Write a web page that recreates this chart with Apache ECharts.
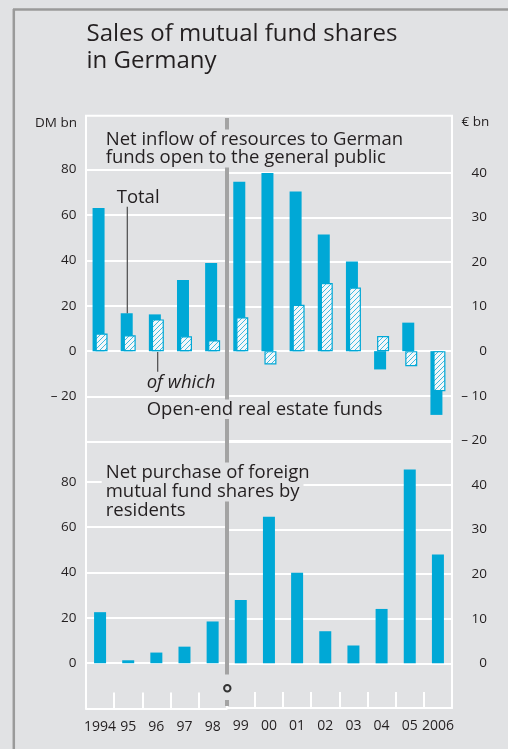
<!DOCTYPE html>
<html>
<head>
<meta charset="utf-8">
<script src="https://cdn.jsdelivr.net/npm/echarts@6/dist/echarts.min.js"></script>
<style>
  html, body { margin: 0; padding: 0; background: #e1e2e4; }
  #chart { width: 508px; height: 749px; }
</style>
</head>
<body>
<div id="chart"></div>
<script>
// years before and after the euro change-over
const yearsDM = ['1994', '95', '96', '97', '98']
const yearsEUR = ['99', '00', '01', '02', '03', '04', '05', '2006']

// net inflow to German funds open to the general public
const totalDM = [63.0, 16.7, 16.2, 31.3, 38.8]          // DM bn
const openEndDM = [7.8, 7.0, 14.0, 6.6, 4.8]
const totalEUR = [38.0, 40.0, 35.8, 26.2, 20.1, -4.1, 6.4, -14.3]   // € bn
const openEndEUR = [7.6, -3.0, 10.4, 15.3, 14.3, 3.4, -3.4, -9.0]

// net purchase of foreign mutual fund shares by residents
const foreignDM = [22.5, 1.3, 4.7, 7.3, 18.4]
const foreignEUR = [14.2, 32.9, 20.3, 7.2, 4.0, 12.2, 43.5, 24.4]

// axis ranges [min, max, step]
const topDM = [-40, 80, 20]
const topEUR = [-20, 40, 10]
const bottomDM = [-20, 97.5, 20]
const bottomEUR = [-10, 49.65, 10]

const font = "'Open Sans', sans-serif"
const bg = '#e1e2e4'
const blue = '#00a8d6'
const ink = '#231f20'

// hatch for the open-end real estate funds
const hatch = document.createElement('canvas')
hatch.width = 5
hatch.height = 5
const hc = hatch.getContext('2d')
hc.fillStyle = '#f4f7f9'
hc.fillRect(0, 0, 5, 5)
hc.strokeStyle = '#2bb2dc'
hc.lineWidth = 0.9
hc.beginPath()
hc.moveTo(-1, 6); hc.lineTo(6, -1)
hc.moveTo(-1, 1); hc.lineTo(1, -1)
hc.moveTo(4, 6); hc.lineTo(6, 4)
hc.stroke()

const xL = 86, xD = 226.7, xR = 452

function grid(left, right, top, bottom) {
  return {left: left, top: top, width: right - left, height: bottom - top, containLabel: false}
}

function catAxis(gi, data, bottomAxis) {
  return {
    type: 'category', gridIndex: gi, data: data, position: 'bottom',
    axisLine: {show: bottomAxis, onZero: false, lineStyle: {color: '#fff', width: 2}},
    axisTick: {show: bottomAxis, inside: true, length: 16, lineStyle: {color: '#fff', width: 2}},
    axisLabel: {show: bottomAxis, interval: 0, margin: 11, color: ink, fontSize: 14, fontFamily: font},
    splitLine: {show: false}
  }
}

function fmt(v) {
  return v < 0 ? '– ' + (-v) : String(v)
}

function valAxis(gi, pos, r, showMin) {
  return {
    type: 'value', gridIndex: gi, position: pos,
    min: r[0], max: r[1], interval: r[2],
    axisLine: {show: true, lineStyle: {color: '#fff', width: 2}},
    axisTick: {show: false},
    axisLabel: {
      color: ink, fontSize: 13.5, fontFamily: font, formatter: fmt,
      showMinLabel: showMin, showMaxLabel: r[1] % r[2] === 0,
      align: 'right', margin: pos === 'left' ? 9.5 : 35
    },
    splitLine: {show: true, lineStyle: {color: '#fff', width: 2}}
  }
}

function bars(xi, data, hatched) {
  return {
    type: 'bar', xAxisIndex: xi, yAxisIndex: xi, data: data,
    barWidth: 12, barGap: '-75%', animation: false,
    itemStyle: hatched
      ? {color: {image: hatch, repeat: 'repeat'}, borderColor: blue, borderWidth: 1.2}
      : {color: blue}
  }
}

function label(text, x, y, extra) {
  return {
    type: 'text', x: x, y: y, z: 30,
    style: Object.assign({
      text: text, fill: ink, fontSize: 18.5, fontFamily: font,
      verticalAlign: 'middle', align: 'left'
    }, extra || {})
  }
}

function line(x1, y1, x2, y2, color, w, z) {
  return {type: 'line', z: z, shape: {x1: x1, y1: y1, x2: x2, y2: y2},
    style: {stroke: color, lineWidth: w}}
}

const boxed = {backgroundColor: bg, padding: [0, 4], lineHeight: 19.4}

let chart = echarts.init(document.getElementById('chart'), null, {renderer: 'canvas'})

let option = {
  backgroundColor: bg,
  animation: false,
  grid: [
    grid(xL, xD, 169.4, 442.1),
    grid(xD, xR, 172.9, 440.3),
    grid(xL, xD, 442.0, 708.6),
    grid(xD, xR, 442.0, 707.9)
  ],
  xAxis: [
    catAxis(0, yearsDM, false),
    catAxis(1, yearsEUR, false),
    catAxis(2, yearsDM, true),
    catAxis(3, yearsEUR, true)
  ],
  yAxis: [
    valAxis(0, 'left', topDM, false),
    valAxis(1, 'right', topEUR, true),
    valAxis(2, 'left', bottomDM, false),
    valAxis(3, 'right', bottomEUR, false)
  ],
  series: [
    bars(0, totalDM, false),
    bars(0, openEndDM, true),
    bars(1, totalEUR, false),
    bars(1, openEndEUR, true),
    bars(2, foreignDM, false),
    bars(3, foreignEUR, false)
  ],
  graphic: [
    // outer box
    line(13, 9.5, 508, 9.5, '#9a9a9a', 2.5, 1),
    line(13.8, 9, 13.8, 749, '#9a9a9a', 2.5, 1),
    // frame above the top panel grids
    line(xL - 1, 115.7, xR + 1, 115.7, '#fff', 2, 1),
    line(xL, 115.7, xL, 708, '#fff', 2, 1),
    line(xR, 115.7, xR, 708, '#fff', 2, 1),
    // euro change-over divider
    line(227, 118, 227, 706, '#a3a3a3', 4, 20),
    {type: 'rect', z: 25, shape: {x: 221, y: 674.5, width: 12, height: 25.5}, style: {fill: bg}},
    {type: 'circle', z: 26, shape: {cx: 227.3, cy: 688.3, r: 3.2}, style: {fill: bg, stroke: '#333', lineWidth: 2}},

    // titles and units
    label('Sales of mutual fund shares', 86.5, 34, {fontSize: 24}),
    label('in Germany', 86.5, 61, {fontSize: 24}),
    label('DM bn', 77, 123, {fontSize: 13.5, align: 'right'}),
    label('€ bn', 461.5, 122, {fontSize: 13.5}),

    label('Net inflow of resources to German', 101.7, 139.3, boxed),
    label('funds open to the general public', 101.7, 157.7, boxed),

    label('Total', 116.7, 197.3),
    line(127.3, 206.7, 127.3, 313.3, '#4a4a4a', 1.2, 28),
    label('of which', 146.7, 382.7, {fontStyle: 'italic'}),
    line(157.7, 352, 157.7, 371.7, '#4a4a4a', 1.2, 28),
    label('Open-end real estate funds', 142.7, 409.3, boxed),

    label('Net purchase of foreign', 101.7, 472.3, boxed),
    label('mutual fund shares by', 101.7, 491.7, boxed),
    label('residents', 101.7, 511, boxed)
  ]
}

chart.setOption(option)
</script>
</body>
</html>
